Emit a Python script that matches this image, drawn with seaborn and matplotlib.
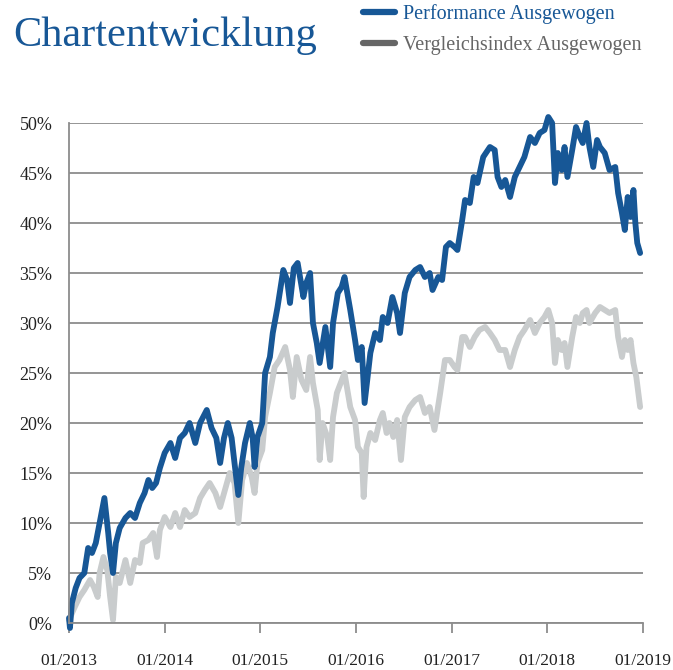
import pandas as pd
import seaborn as sns
from matplotlib import pyplot as plt
from matplotlib.lines import Line2D

# years since 01/2013, values in %
perf_t = [0.00, 0.01, 0.03, 0.07, 0.11, 0.16, 0.20, 0.24, 0.28, 0.32, 0.37, 0.41, 0.43, 0.46, 0.49,
          0.53, 0.59, 0.64, 0.69, 0.74, 0.79, 0.83, 0.87, 0.91, 0.95, 1.00, 1.06, 1.11, 1.16, 1.21,
          1.26, 1.32, 1.37, 1.44, 1.49, 1.54, 1.58, 1.62, 1.66, 1.70, 1.73, 1.77, 1.80, 1.84, 1.89,
          1.92, 1.94, 1.97, 2.02, 2.05, 2.10, 2.13, 2.18, 2.24, 2.28, 2.31, 2.35, 2.39, 2.45, 2.48,
          2.52, 2.55, 2.59, 2.62, 2.68, 2.73, 2.76, 2.81, 2.85, 2.88, 2.94, 2.99, 3.02, 3.06, 3.09,
          3.15, 3.20, 3.25, 3.28, 3.33, 3.38, 3.43, 3.46, 3.51, 3.56, 3.62, 3.67, 3.72, 3.77, 3.80,
          3.86, 3.90, 3.94, 3.98, 4.03, 4.06, 4.11, 4.14, 4.19, 4.23, 4.27, 4.33, 4.40, 4.45, 4.48,
          4.52, 4.56, 4.61, 4.66, 4.71, 4.76, 4.82, 4.87, 4.92, 4.97, 5.01, 5.05, 5.08, 5.11, 5.15,
          5.18, 5.21, 5.26, 5.30, 5.34, 5.37, 5.41, 5.44, 5.48, 5.52, 5.55, 5.60, 5.65, 5.71, 5.74,
          5.78, 5.81, 5.84, 5.87, 5.90, 5.92, 5.94, 5.97]
perf_v = [0.5, -0.5, 2.0, 3.5, 4.5, 5.0, 7.5, 7.0, 8.0, 10.0, 12.5, 9.0, 7.0, 5.0, 8.0,
          9.5, 10.5, 11.0, 10.5, 12.0, 13.0, 14.3, 13.5, 14.0, 15.5, 17.0, 18.0, 16.5, 18.5, 19.0,
          20.0, 18.0, 20.0, 21.3, 19.5, 18.5, 16.0, 18.5, 20.0, 18.5, 16.0, 12.8, 15.5, 18.0, 20.0,
          18.5, 15.6, 18.6, 20.0, 25.0, 26.6, 29.0, 31.6, 35.3, 34.3, 32.0, 35.5, 36.0, 32.6, 34.0,
          35.0, 30.0, 28.0, 26.0, 29.6, 25.6, 30.0, 33.0, 33.6, 34.6, 31.3, 28.3, 26.3, 27.6, 22.0,
          27.0, 29.0, 28.3, 30.6, 30.0, 32.6, 31.0, 29.0, 33.0, 34.6, 35.3, 35.6, 34.6, 35.0, 33.3,
          34.6, 34.3, 37.6, 38.0, 37.6, 37.3, 40.3, 42.3, 42.0, 44.6, 44.0, 46.6, 47.6, 47.3, 44.6,
          43.6, 44.3, 42.6, 44.6, 45.6, 46.6, 48.6, 48.0, 49.0, 49.3, 50.6, 50.0, 44.0, 47.0, 45.3,
          47.6, 44.6, 47.3, 49.6, 48.6, 48.0, 50.0, 47.6, 45.6, 48.3, 47.6, 47.0, 45.3, 45.6, 43.0,
          41.0, 39.3, 42.6, 40.6, 43.3, 40.0, 38.0, 37.0]

idx_t = [0.00, 0.06, 0.11, 0.16, 0.22, 0.26, 0.30, 0.32, 0.36, 0.40, 0.43, 0.46, 0.49, 0.53, 0.59,
         0.64, 0.69, 0.74, 0.77, 0.83, 0.88, 0.92, 0.95, 1.00, 1.06, 1.11, 1.16, 1.21, 1.26, 1.32,
         1.37, 1.42, 1.47, 1.53, 1.58, 1.63, 1.68, 1.73, 1.77, 1.81, 1.86, 1.91, 1.94, 1.97, 2.02,
         2.05, 2.10, 2.15, 2.20, 2.26, 2.31, 2.34, 2.38, 2.43, 2.48, 2.52, 2.55, 2.60, 2.62, 2.65,
         2.70, 2.73, 2.76, 2.80, 2.84, 2.88, 2.94, 2.99, 3.02, 3.06, 3.08, 3.11, 3.15, 3.20, 3.25,
         3.28, 3.32, 3.35, 3.39, 3.43, 3.47, 3.51, 3.56, 3.62, 3.67, 3.72, 3.77, 3.82, 3.88, 3.93,
         3.98, 4.03, 4.06, 4.11, 4.14, 4.19, 4.24, 4.29, 4.35, 4.40, 4.45, 4.50, 4.56, 4.61, 4.66,
         4.71, 4.76, 4.82, 4.87, 4.92, 4.97, 5.01, 5.05, 5.08, 5.11, 5.15, 5.18, 5.21, 5.26, 5.30,
         5.34, 5.37, 5.41, 5.44, 5.50, 5.55, 5.60, 5.65, 5.71, 5.74, 5.78, 5.81, 5.84, 5.87, 5.90,
         5.93, 5.97]
idx_v = [0.3, 1.6, 2.6, 3.3, 4.3, 3.6, 2.6, 5.0, 6.6, 5.3, 2.6, 0.3, 4.6, 4.0, 6.3,
         4.0, 6.3, 6.0, 8.0, 8.3, 9.0, 6.6, 9.3, 10.6, 9.6, 11.0, 9.6, 11.3, 10.6, 11.0,
         12.5, 13.3, 14.0, 13.0, 11.6, 13.3, 15.0, 14.0, 10.0, 14.3, 16.0, 14.6, 13.0, 16.0, 17.3,
         20.6, 23.0, 25.6, 26.3, 27.6, 25.3, 22.6, 26.6, 24.3, 23.3, 26.6, 24.0, 21.3, 16.3, 20.0,
         18.6, 16.3, 20.6, 23.0, 24.0, 25.0, 21.6, 20.3, 17.6, 17.0, 12.6, 17.6, 19.0, 18.3, 20.3,
         21.0, 19.0, 20.0, 18.6, 20.3, 16.3, 20.6, 21.6, 22.3, 22.6, 21.0, 21.6, 19.3, 23.0, 26.3,
         26.3, 25.6, 25.3, 28.6, 28.6, 27.6, 28.6, 29.3, 29.6, 29.0, 28.3, 27.3, 27.3, 25.6, 27.3,
         28.6, 29.3, 30.3, 29.0, 30.0, 30.6, 31.3, 30.0, 26.0, 28.3, 27.3, 28.0, 25.6, 28.6, 30.6,
         30.0, 31.0, 31.3, 30.0, 31.0, 31.6, 31.3, 31.0, 31.3, 28.6, 26.6, 28.3, 27.3, 28.3, 26.0,
         24.6, 21.6]

names = ['Performance Ausgewogen', 'Vergleichsindex Ausgewogen']
year_labels = ['01/2013', '01/2014', '01/2015', '01/2016', '01/2017', '01/2018', '01/2019']
pct_ticks = [0, 5, 10, 15, 20, 25, 30, 35, 40, 45, 50]

blue = '#175796'
light = '#c9cccd'
grid_c = '#8c8c8c'

df = pd.concat([
    pd.DataFrame({'t': idx_t, 'v': idx_v, 'serie': names[1]}),
    pd.DataFrame({'t': perf_t, 'v': perf_v, 'serie': names[0]}),
])

sns.set_style('white')
plt.rcParams['font.family'] = ['Liberation Serif', 'DejaVu Serif']

fig = plt.figure(figsize=(6.73, 6.70), dpi=100)
ax = fig.add_axes([69 / 673, 47 / 670, 574 / 673, 500 / 670])

sns.lineplot(data=df, x='t', y='v', hue='serie', hue_order=[names[1], names[0]],
             palette={names[0]: blue, names[1]: light}, estimator=None, sort=False,
             linewidth=4.2, legend=False, ax=ax)
for ln in ax.lines:
    ln.set_clip_on(False)
    ln.set_solid_joinstyle('round')
    ln.set_solid_capstyle('round')

ax.set_xlim(0, 6)
ax.set_ylim(0, 50)
ax.set_yticks(pct_ticks)
ax.set_yticklabels([f'{p}%' for p in pct_ticks])
ax.set_xticks(range(len(year_labels)))
ax.set_xticklabels(year_labels)
ax.set_xlabel('')
ax.set_ylabel('')
ax.yaxis.grid(True, color=grid_c, linewidth=1.3)
ax.set_axisbelow(True)
for s in ['top', 'right']:
    ax.spines[s].set_visible(False)
for s in ['left', 'bottom']:
    ax.spines[s].set_color(grid_c)
    ax.spines[s].set_linewidth(1.3)
ax.tick_params(axis='y', length=5, width=1.3, color=grid_c, pad=7, labelsize=13, labelcolor='#222222')
ax.tick_params(axis='x', length=7.5, width=1.3, color=grid_c, pad=14, labelsize=12.5, labelcolor='#222222',
               bottom=True, direction='out')

fig.text(13 / 673, 1 - 46 / 670, 'Chartentwicklung', color=blue, fontsize=30.5, ha='left', va='baseline')

handles = [Line2D([], [], color=blue, linewidth=4.5), Line2D([], [], color='#666666', linewidth=4.5)]
fig.legend(handles, names, loc='upper left', bbox_to_anchor=(363 / 673, 1 - 4 / 670), frameon=False,
           fontsize=14.5, handlelength=1.6, handletextpad=0.4, labelspacing=0.6,
           labelcolor=[blue, '#666666'], borderaxespad=0, borderpad=0)

fig.savefig('out.png', dpi=100)
